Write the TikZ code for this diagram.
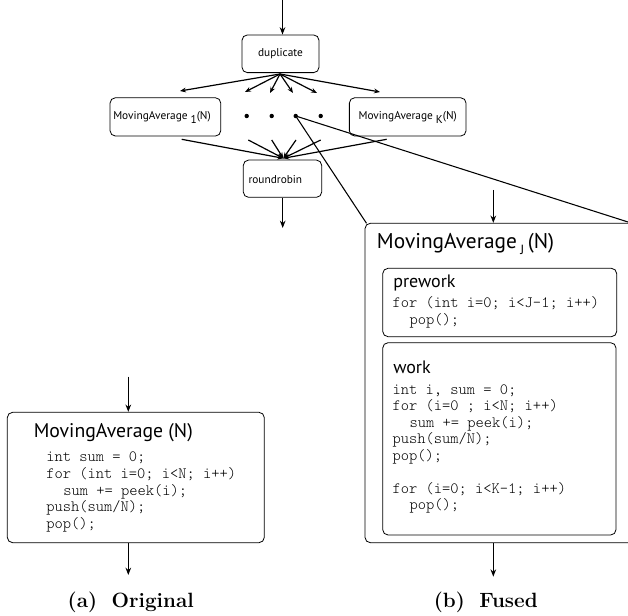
\documentclass[tikz,border=0pt]{standalone}
\usepackage{fontspec}
\newfontfamily\myr{PT Sans}
\newfontfamily\cour{Latin Modern Mono Light}
\usetikzlibrary{arrows.meta}
\begin{document}
\begin{tikzpicture}[x=0.75pt,y=-0.75pt,
  box/.style={draw, rounded corners=4pt, line width=0.6pt, inner sep=0pt},
  arr/.style={-{Stealth[length=5.5pt,width=4.2pt]}, line width=1pt},
  farr/.style={-{Stealth[length=4.5pt,width=3.6pt]}, line width=0.9pt},
  ln/.style={line width=0.8pt},
  code/.style={font=\cour\fontsize{11.8}{12}\selectfont, anchor=base west, inner sep=0pt},
  small/.style={font=\myr\fontsize{8.5}{10}\selectfont, inner sep=0pt},
  ttl/.style={font=\myr\fontsize{#1}{#1}\selectfont, anchor=base west, inner sep=0pt},
  captxt/.style={font=\fontsize{15.5}{18}\selectfont\bfseries, anchor=base, inner sep=0pt},
  dot/.style={circle, fill, inner sep=0pt, minimum size=3.3pt}]
\clip (0,0) rectangle (628,616);
% ---------- top graph ----------
\node[box, minimum width=77*0.75pt, minimum height=37.7*0.75pt, small] (dup) at (280.5,53.8) {duplicate};
\node[box, minimum width=110.7*0.75pt, minimum height=38.3*0.75pt] (ma1) at (165.4,116.9) {};
\node[box, minimum width=116.7*0.75pt, minimum height=38.3*0.75pt] (mak) at (407.7,116.9) {};
\node[box, minimum width=78.4*0.75pt, minimum height=37.3*0.75pt] (rr) at (282.5,178.7) {};
\node[small, anchor=base west] (ma1t) at (113,120) {MovingAverage \raisebox{-2.6pt}{1}(N)};
\node[small, anchor=base west] (makt) at (358.3,120) {MovingAverage \raisebox{-2.6pt}{K}(N)};
\node[small, anchor=base west] (rrt) at (248.3,184) {roundrobin};
\node[dot] (d1) at (246.7,116) {};
\node[dot] (d2) at (271.7,116) {};
\node[dot] (d3) at (295.7,116) {};
\node[dot] (d4) at (320.7,116) {};
\coordinate (in0) at (282.5,0);
\coordinate (dupb) at (280,74);
\coordinate (f1) at (180,91);
\coordinate (f2) at (245,92);
\coordinate (f3) at (270,93);
\coordinate (f4) at (293,93);
\coordinate (f5) at (317,93);
\coordinate (f6) at (380,92);
\coordinate (c1) at (181.7,139.3);
\coordinate (c2) at (248.3,140);
\coordinate (c3) at (271.7,140);
\coordinate (c4) at (296,140);
\coordinate (c5) at (320.7,140);
\coordinate (c6) at (386.7,139.3);
\coordinate (rrin) at (283.3,158.3);
\coordinate (rrout) at (282.7,228);
\draw[arr] (in0) -- (in0 |- dup.north);
\foreach \k in {1,...,6} \draw[farr] (dupb) -- (f\k);
\foreach \k in {1,...,6} \draw[farr] (c\k) -- (rrin);
\draw[arr] (rr.south -| rrout) -- (rrout);
% ---------- fused box ----------
\node[box, minimum width=295*0.75pt, minimum height=319.4*0.75pt] (fb) at (512.5,383) {};
\node[box, minimum width=234*0.75pt, minimum height=68.4*0.75pt] (pre) at (499.7,302.5) {};
\node[box, minimum width=233.3*0.75pt, minimum height=192.3*0.75pt] (wk) at (499.35,438.85) {};
\coordinate (fbtl) at (366.5,223.3);
\coordinate (fbtr) at (628,222);
\draw[ln] (d3.center) -- (fbtl);
\draw[ln] (d3.center) -- (fbtr);
\coordinate (bin) at (493.3,190);
\coordinate (bout) at (493.3,576.7);
\draw[arr] (bin) -- (bin |- fb.north);
\draw[arr] (fb.south -| bout) -- (bout);
\node[ttl=16] (fbt) at (376.7,248.3) {MovingAverage\,\raisebox{-4.5pt}{\fontsize{10}{10}\selectfont J}\,(N)};
\node[ttl=13.5] (pret) at (393,287.3) {prework};
\node[code] (p1) at (392.3,308) {for (int i=0; i<J-1; i++)};
\node[code] (p2) at (409.3,325) {pop();};
\node[ttl=13.5] (wkt) at (393,373.3) {work};
\node[code] (w1) at (392.3,394) {int i, sum = 0;};
\node[code] (w2) at (392.3,410.5) {for (i=0 ; i<N; i++)};
\node[code] (w3) at (409.3,427) {sum += peek(i);};
\node[code] (w4) at (392.3,443.5) {push(sum/N);};
\node[code] (w5) at (392.3,460) {pop();};
\node[code] (w6) at (392.3,493) {for (i=0; i<K-1; i++)};
\node[code] (w7) at (409.3,509.5) {pop();};
% ---------- original box ----------
\node[box, minimum width=257*0.75pt, minimum height=130.4*0.75pt] (ob) at (135.8,477.5) {};
\coordinate (ain) at (128.3,376.7);
\coordinate (aout) at (128.3,575);
\draw[arr] (ain) -- (ain |- ob.north);
\draw[arr] (ob.south -| aout) -- (aout);
\node[ttl=14.8] (obt) at (33.5,437.5) {MovingAverage (N)};
\node[code] (o1) at (46,461.5) {int sum = 0;};
\node[code] (o2) at (46,478.25) {for (int i=0; i<N; i++)};
\node[code] (o3) at (63,495) {sum += peek(i);};
\node[code] (o4) at (46,511.75) {push(sum/N);};
\node[code] (o5) at (46,528.5) {pop();};
% ---------- captions ----------
\node[captxt] (capa) at (130.8,607.5) {(a)\hspace{0.7em}Original};
\node[captxt] (capb) at (485.8,607) {(b)\hspace{0.7em}Fused};
\end{tikzpicture}
\end{document}
